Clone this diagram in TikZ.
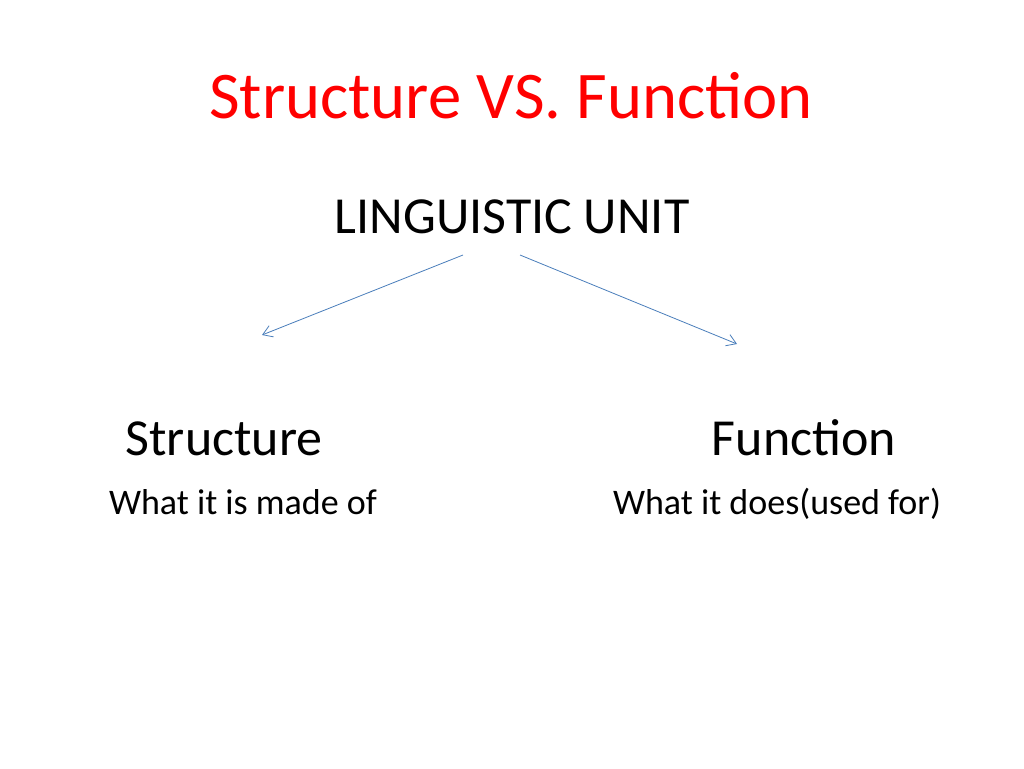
\documentclass[tikz,border=0pt]{standalone}
\usepackage{fontspec}
\setmainfont{Carlito}
\usetikzlibrary{arrows.meta}
\definecolor{titlered}{RGB}{255,0,0}
\definecolor{arrblue}{RGB}{74,126,187}
\begin{document}
\begin{tikzpicture}[x=0.75pt,y=-0.75pt,
  txt/.style={anchor=base,inner sep=0pt},
  conn/.style={draw=arrblue,line width=0.6pt,-{Straight Barb[length=7pt,width=9pt]}}]
\useasboundingbox (0,0) rectangle (1024,768);
\node[txt,text=titlered,font=\fontsize{50}{60}\selectfont] (title) at (511,118) {Structure VS. Function};
\node[txt,font=\fontsize{39}{46}\selectfont] (unit) at (512,233) {LINGUISTIC UNIT};
\node[txt,font=\fontsize{39}{46}\selectfont] (struct) at (224,455) {Structure};
\node[txt,font=\fontsize{39}{46}\selectfont] (func) at (804,455) {Function};
\node[txt,font=\fontsize{27}{32}\selectfont] (sdesc) at (243,514) {What it is made of};
\node[txt,font=\fontsize{27}{32}\selectfont] (fdesc) at (777,514) {What it does(used for)};
\coordinate (a1) at (463,255);
\coordinate (a2) at (262,335);
\coordinate (b1) at (520,255);
\coordinate (b2) at (737,344);
\draw[conn] (a1) -- (a2);
\draw[conn] (b1) -- (b2);
\end{tikzpicture}
\end{document}
